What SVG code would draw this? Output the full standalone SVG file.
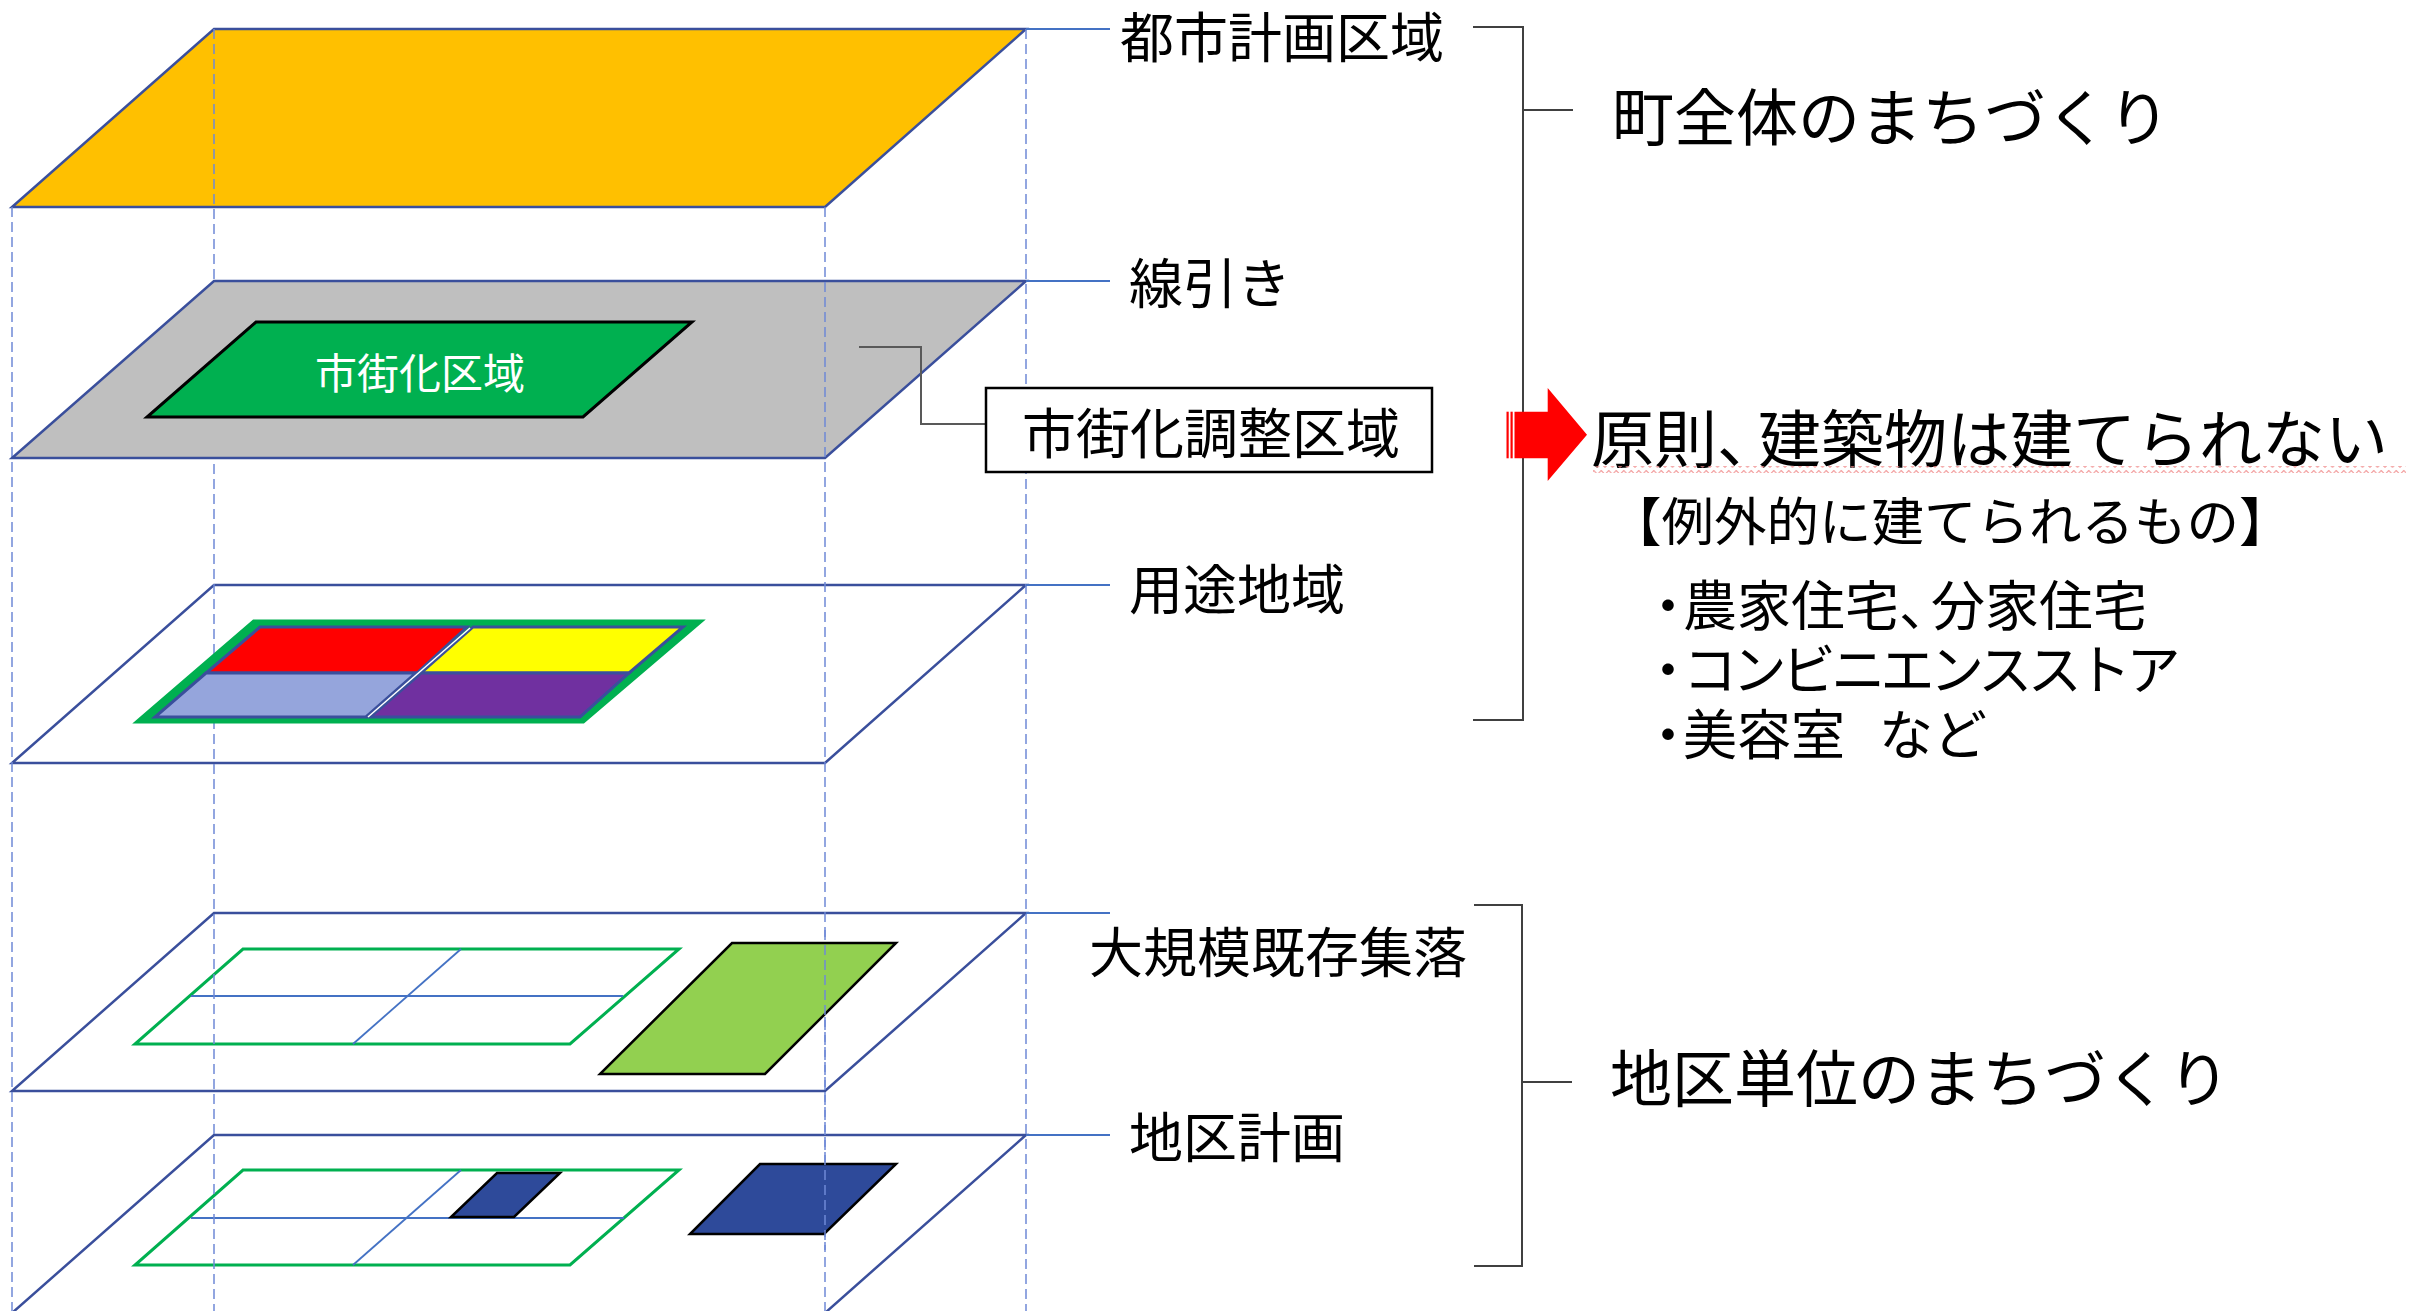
<svg xmlns="http://www.w3.org/2000/svg" width="2417" height="1311" viewBox="0 0 2417 1311">
<style>
.plane{fill:#FFFFFF;stroke:#3A4F9C;stroke-width:2.5;stroke-linejoin:miter}
.guide{stroke:#6F89D6;stroke-width:1.5;stroke-dasharray:10 5;fill:none}
.leader{stroke:#4472C4;stroke-width:2;fill:none}
.bracket{stroke:#404040;stroke-width:2;fill:none}
.outline{fill:none;stroke:#00B050;stroke-width:3}
.inner{stroke:#4472C4;stroke-width:1.8;fill:none}
.cell{stroke:#3A4F9C;stroke-width:3}
.blk{stroke:#000000;stroke-width:2.5}
text{font-family:"Noto Sans CJK JP","Noto Sans",sans-serif;fill:#000000}
.lbl{font-size:54px}
.big{font-size:62px}
.mid{font-size:52.5px}
.lst{font-size:54px}
</style>
<defs>
<pattern id="squiggle" x="0" y="0" width="7.5" height="7" patternUnits="userSpaceOnUse">
<path d="M0,5.5 L3.75,1.5 L7.5,5.5" fill="none" stroke="#F08A8A" stroke-width="1"/>
</pattern>
</defs>
<rect width="2417" height="1311" fill="#FFFFFF"/>

<g id="layer-toshikeikaku">
<polygon class="plane" points="214,29 1026,29 825,207 12,207" style="fill:#FFC000"/>
</g>

<g id="layer-youto">
<polygon class="plane" points="214,585 1026,585 825,763 12,763"/>
</g>

<g id="layer-kibo">
<polygon class="plane" points="214,913 1026,913 825,1091 12,1091"/>
<polygon class="outline" points="243,949 679,949 570,1044 135,1044"/>
<line class="inner" x1="191" y1="996" x2="623" y2="996"/>
<line class="inner" x1="461" y1="949" x2="353" y2="1044"/>
</g>

<g id="layer-chiku">
<polygon class="plane" points="214,1135 1026,1135 825,1313 12,1313"/>
<polygon class="outline" points="243,1170 679,1170 570,1265 135,1265"/>
<line class="inner" x1="191" y1="1218" x2="624" y2="1218"/>
<line class="inner" x1="461" y1="1170" x2="353" y2="1265"/>
</g>

<g id="guides">
<line class="guide" x1="214" y1="29" x2="214" y2="1311"/>
<line class="guide" x1="1026" y1="29" x2="1026" y2="1311"/>
<line class="guide" x1="12" y1="207" x2="12" y2="1311"/>
</g>

<g id="layer-senbiki">
<polygon class="plane" points="214,281 1026,281 825,458 12,458" style="fill:#BFBFBF"/>
</g>

<g id="guides-front">
<line class="guide" x1="825" y1="207" x2="825" y2="1311"/>
</g>

<g id="shigaika-kuiki">
<polygon points="256,322 692,322 583,417 147,417" fill="#00B050" stroke="#000000" stroke-width="3"/>
<text x="420" y="389" text-anchor="middle" style="font-size:42px;fill:#FFFFFF">市街化区域</text>
</g>

<g id="youto-zones">
<polygon points="254,622 699,622 583,721 139,721" fill="#00B050" stroke="#00B050" stroke-width="5" stroke-linejoin="miter"/>
<polygon class="cell" points="260,627 467,627 417,673 206,673" fill="#FF0000"/>
<polygon class="cell" points="473,627 683,627 629,673 421,673" fill="#FFFF00"/>
<polygon class="cell" points="206,673 416,673 366,717 155,717" fill="#95A5DC"/>
<polygon class="cell" points="421,673 629,673 580,717 370,717" fill="#7030A0"/>
<line x1="470" y1="628" x2="368" y2="717" stroke="#FFFFFF" stroke-width="1.5"/>
</g>

<g id="kizon-shuraku">
<polygon class="blk" points="732,943 896,943 765,1074 600,1074" fill="#92D050"/>
</g>

<g id="chiku-keikaku-areas">
<polygon class="blk" points="497,1173 560,1173 514,1217 451,1217" fill="#2E4A9A"/>
<polygon class="blk" points="760,1164 896,1164 824,1234 690,1234" fill="#2E4A9A"/>
</g>

<g id="guides-over">
<line class="guide" x1="825" y1="930" x2="825" y2="1250"/>
</g>

<g id="connectors">
<line class="leader" x1="1026" y1="29" x2="1110" y2="29"/>
<line class="leader" x1="1026" y1="281" x2="1110" y2="281"/>
<line class="leader" x1="1026" y1="585" x2="1110" y2="585"/>
<line class="leader" x1="1026" y1="913" x2="1110" y2="913"/>
<line class="leader" x1="1026" y1="1135" x2="1110" y2="1135"/>
<polyline points="859,347 921,347 921,424 986,424" fill="none" stroke="#595959" stroke-width="2"/>
<polyline class="bracket" points="1473,27 1523,27 1523,720 1473,720"/>
<line class="bracket" x1="1523" y1="110" x2="1573" y2="110"/>
<polyline class="bracket" points="1474,905 1522,905 1522,1266 1474,1266"/>
<line class="bracket" x1="1522" y1="1082" x2="1572" y2="1082"/>
</g>

<g id="label-toshikeikaku"><text class="lbl" x="1120" y="58">都市計画区域</text></g>
<g id="label-senbiki"><text class="lbl" x="1129" y="304">線引き</text></g>
<g id="label-youto"><text class="lbl" x="1129" y="610">用途地域</text></g>
<g id="label-kibo"><text class="lbl" x="1089" y="973">大規模既存集落</text></g>
<g id="label-chiku"><text class="lbl" x="1129" y="1158">地区計画</text></g>

<g id="chosei-box">
<rect x="986" y="388" width="446" height="84" fill="#FFFFFF" stroke="#000000" stroke-width="2.5"/>
<text class="lbl" x="1211" y="454" text-anchor="middle">市街化調整区域</text>
</g>

<g id="machi-zentai"><text class="big" x="1612" y="141">町全体のまちづくり</text></g>
<g id="chiku-tani"><text class="big" x="1610" y="1102">地区単位のまちづくり</text></g>

<g id="arrow">
<rect x="1506.5" y="411.7" width="2.2" height="46.6" fill="#FF0000"/>
<rect x="1510.5" y="411.7" width="2.2" height="46.6" fill="#FF0000"/>
<polygon points="1514.5,411.7 1547.7,411.7 1547.7,388 1587,434.7 1547.7,481 1547.7,458.3 1514.5,458.3" fill="#FF0000"/>
</g>

<g id="gensoku">
<text x="1591" y="462" style="font-size:63px">原則、<tspan dx="-22">建築物は建てられない</tspan></text>
<rect x="1593" y="466" width="813" height="7" fill="url(#squiggle)"/>
</g>

<g id="reigai">
<text class="mid" x="1609" y="541">【例外的に建てられるもの】</text>
<text class="lst"><tspan x="1641" y="626">・</tspan><tspan dx="-12">農家住宅、</tspan><tspan dx="-22">分家住宅</tspan><tspan x="1641" y="690">・</tspan><tspan dx="-12" style="letter-spacing:-4.6px">コンビニエンスストア</tspan><tspan x="1641" y="755">・</tspan><tspan dx="-12">美容室</tspan><tspan dx="-20">　など</tspan></text>
</g>
</svg>
